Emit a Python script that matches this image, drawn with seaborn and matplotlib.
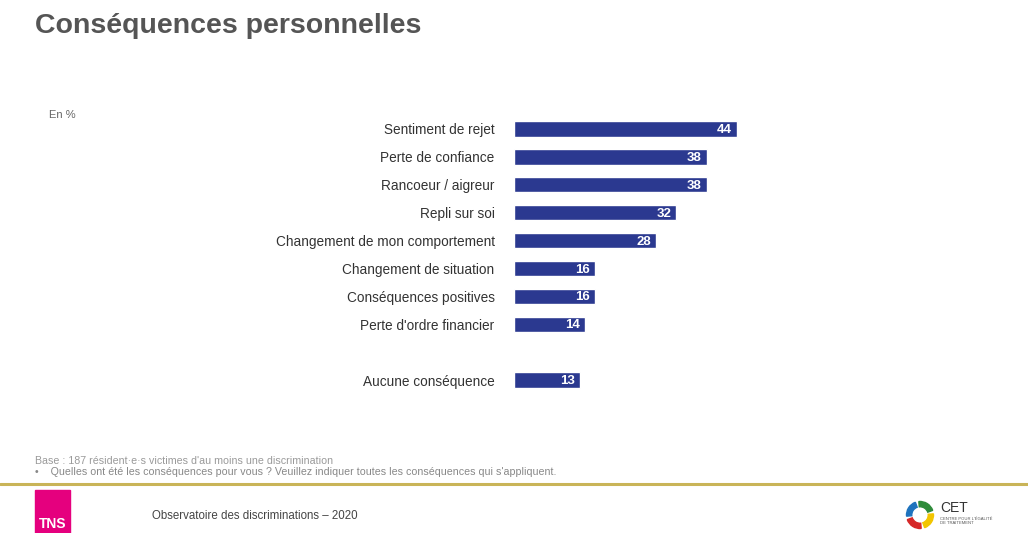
import pandas as pd
import matplotlib.pyplot as plt
import seaborn as sns
from matplotlib.patches import Rectangle, Wedge

# -----------------------------
# Data
# -----------------------------
categories = ["Sentiment de rejet", "Perte de confiance", "Rancoeur / aigreur",
              "Repli sur soi", "Changement de mon comportement",
              "Changement de situation", "Conséquences positives",
              "Perte d'ordre financier", "Aucune conséquence"]
values = [44, 38, 38, 32, 28, 16, 16, 14, 13]

# blank slot before the last bar
order = categories[:8] + [" "] + categories[8:]

df = pd.DataFrame({"label": categories, "value": values})

bar_color = "#2B3990"
grey = "#555555"

sns.set_style("white")
plt.rcParams['font.family'] = ['Liberation Sans', 'DejaVu Sans']

fig = plt.figure(figsize=(10.28, 5.33), dpi=100)
W, H = 1028, 533

# axes placed in pixel coords
left, right = 514, 514 + 50 * 5.07
top, bottom = 115, 394
ax = fig.add_axes([left / W, 1 - bottom / H, (right - left) / W, (bottom - top) / H])

sns.barplot(data=df, y="label", x="value", order=order, color=bar_color,
            width=0.55, saturation=1, ax=ax, orient="h")
ax.set_xlim(0, 50)
ax.set_ylim(9.5, -0.5)
ax.set_xlabel("")
ax.set_ylabel("")
ax.set_xticks([])
ax.tick_params(axis="y", length=0, pad=14, labelsize=9.8, labelcolor="#333333")
for s in ax.spines.values():
    s.set_visible(False)

# value labels inside bar ends
for cat, v in zip(categories, values):
    y = order.index(cat)
    ax.text(v - 1.0, y + 0.04, str(v), ha="right", va="center", color="white",
            fontsize=9.5, fontweight="bold")

# -----------------------------
# Slide decorations
# -----------------------------
fig.text(35 / W, 1 - 26 / H, "Conséquences personnelles", fontsize=20.5,
         fontweight="heavy", color=grey, va="center", ha="left")
fig.text(49 / W, 1 - 115 / H, "En %", fontsize=8, color="#666666", va="center")

fig.text(35 / W, 1 - 461 / H, "Base : 187 résident·e·s victimes d'au moins une discrimination",
         fontsize=7.7, color="#9a9a9a", va="center")
fig.text(35 / W, 1 - 472 / H,
         "•    Quelles ont été les conséquences pour vous ? Veuillez indiquer toutes les conséquences qui s'appliquent.",
         fontsize=7.7, color="#888888", va="center")

fig.add_artist(plt.Line2D([0, 1], [1 - 484 / H] * 2, color="#C9B458", lw=2.2,
                          transform=fig.transFigure))

# TNS block
fig.add_artist(Rectangle((35 / W, 0), 35 / W, 43 / H, color="#E5007E",
                         transform=fig.transFigure))
fig.text(52.5 / W, 1 - 524 / H, "TNS", fontsize=10, fontweight="bold",
         color="white", ha="center", va="center")
fig.text(152 / W, 1 - 516 / H, "Observatoire des discriminations – 2020",
         fontsize=8.3, color="#444444", va="center")

# CET logo
logo = fig.add_axes([905 / W, 1 - 530 / H, 30 / W, 30 / H])
logo.set_xlim(-1, 1)
logo.set_ylim(-1, 1)
logo.set_aspect("equal")
logo.axis("off")
for start, col in zip([20, 110, 200, 290], ["#2E8B3A", "#1E73BE", "#D62828", "#F2C500"]):
    logo.add_patch(Wedge((0, 0), 0.9, start, start + 75, width=0.35, color=col))
fig.text(940 / W, 1 - 508 / H, "CET", fontsize=10, color="#333333", va="center")
fig.text(940 / W, 1 - 521 / H, "CENTRE POUR L'ÉGALITÉ\nDE TRAITEMENT", fontsize=3,
         color="#555555", va="center", linespacing=1.1)

fig.savefig("out.png", dpi=100)
